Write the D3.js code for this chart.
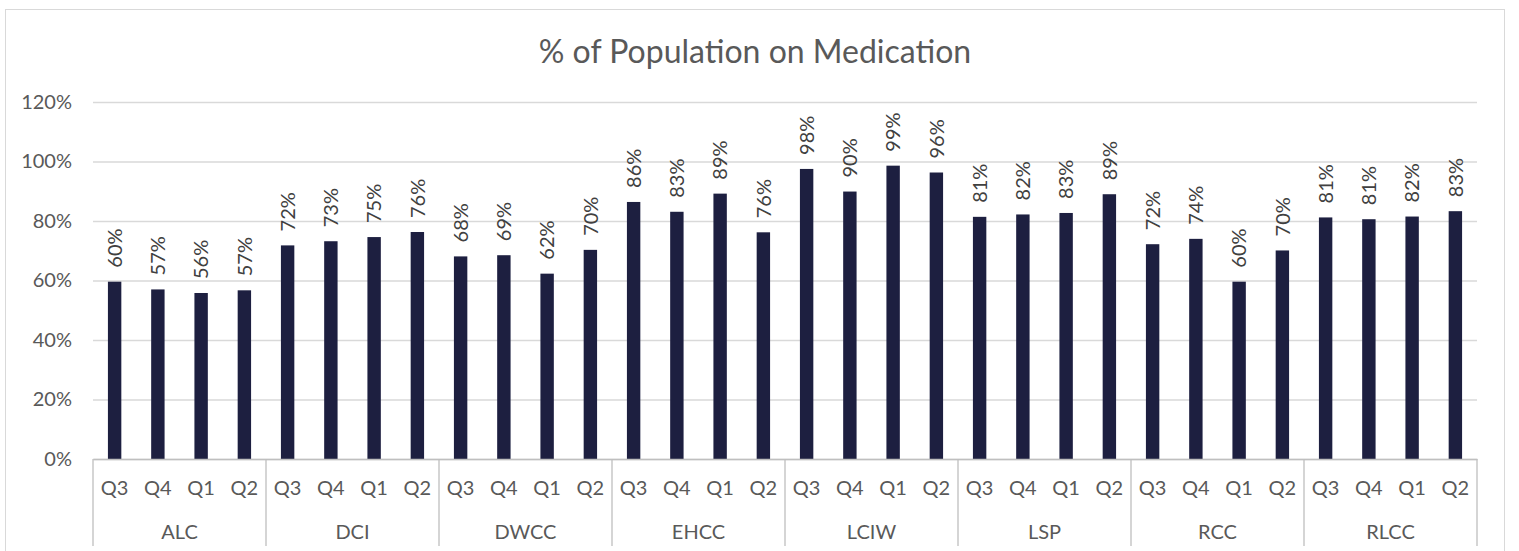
<!DOCTYPE html>
<html lang="en">
<head>
<meta charset="utf-8">
<title>% of Population on Medication</title>
<style>
body { margin: 0; background: #fff; }
svg text { font-family: Lato, "Open Sans", sans-serif; }
.title { font-size: 32px; fill: #595959; text-anchor: middle; }
.yAxis text { font-size: 20px; fill: #595959; }
.xAxis text { font-size: 20px; fill: #595959; }
.lbl { font-size: 20px; fill: #404040; }
</style>
</head>
<body>
<div id="chart"></div>
<script src="https://d3js.org/d3.v7.min.js"></script>
<script>
var sites = ['ALC', 'DCI', 'DWCC', 'EHCC', 'LCIW', 'LSP', 'RCC', 'RLCC'];
var quarters = ['Q3', 'Q4', 'Q1', 'Q2'];
var alc  = [0.596, 0.570, 0.558, 0.567];
var dci  = [0.718, 0.732, 0.746, 0.763];
var dwcc = [0.681, 0.685, 0.623, 0.703];
var ehcc = [0.864, 0.831, 0.892, 0.762];
var lciw = [0.975, 0.899, 0.986, 0.963];
var lsp  = [0.814, 0.822, 0.827, 0.890];
var rcc  = [0.722, 0.740, 0.596, 0.701];
var rlcc = [0.812, 0.806, 0.815, 0.833];
var yTicks = [0, 0.2, 0.4, 0.6, 0.8, 1.0, 1.2];

var seriesBySite = [alc, dci, dwcc, ehcc, lciw, lsp, rcc, rlcc];
var data = [];
sites.forEach(function(s, i) {
  quarters.forEach(function(q, j) {
    data.push({ site: s, q: q, key: s + '|' + q, v: seriesBySite[i][j] });
  });
});

var W = 1519, H = 551;
var margin = { top: 102, right: 42, bottom: 92, left: 93 };
var width = W - margin.left - margin.right;
var height = H - margin.top - margin.bottom;
var pct = d3.format('.0%');

var svg = d3.select('#chart').append('svg')
  .attr('width', W).attr('height', H);

// chart frame
svg.append('rect')
  .attr('x', 5.5).attr('y', 9.5)
  .attr('width', 1499).attr('height', 600)
  .attr('fill', 'none').attr('stroke', '#d9d9d9');

svg.append('text').attr('class', 'title')
  .attr('x', 755).attr('y', 63)
  .text('% of Population on Medication');

var g = svg.append('g')
  .attr('transform', 'translate(' + margin.left + ',' + margin.top + ')');

var y = d3.scaleLinear().domain([0, 1.2]).range([height, 0]);
var x = d3.scaleBand().domain(data.map(function(d) { return d.key; }))
  .range([0, width]).paddingInner(0.69).paddingOuter(0.345);
var xg = d3.scaleBand().domain(sites).range([0, width]);

// gridlines + y axis
var yAxis = g.append('g').attr('class', 'yAxis')
  .call(d3.axisLeft(y).tickValues(yTicks).tickFormat(pct)
    .tickSize(-width).tickPadding(21));
yAxis.select('.domain').remove();
yAxis.selectAll('line').attr('stroke', '#d9d9d9').attr('stroke-width', 1.3);

// bars
g.selectAll('rect.bar').data(data).enter().append('rect')
  .attr('class', 'bar')
  .attr('x', function(d) { return x(d.key); })
  .attr('width', x.bandwidth())
  .attr('y', function(d) { return y(d.v); })
  .attr('height', function(d) { return height - y(d.v); })
  .attr('fill', '#1d1f40');

// value labels, rotated
g.selectAll('text.lbl').data(data).enter().append('text')
  .attr('class', 'lbl')
  .attr('transform', function(d) {
    return 'translate(' + (x(d.key) + x.bandwidth() / 2) + ',' + (y(d.v) - 14) + ') rotate(-90)';
  })
  .attr('dy', '0.36em')
  .text(function(d) { return pct(d.v); });

// category axis: quarters
var xAxis = g.append('g').attr('class', 'xAxis')
  .attr('transform', 'translate(0,' + height + ')')
  .call(d3.axisBottom(x).tickSize(0).tickPadding(22)
    .tickFormat(function(k) { return k.split('|')[1]; }));
xAxis.select('.domain').attr('stroke', '#bfbfbf').attr('stroke-width', 1.3);

// category axis: sites
var gAxis = g.append('g').attr('class', 'xAxis')
  .attr('transform', 'translate(0,' + height + ')');
gAxis.selectAll('text').data(sites).enter().append('text')
  .attr('x', function(d) { return xg(d) + xg.bandwidth() / 2; })
  .attr('y', 80)
  .attr('text-anchor', 'middle')
  .text(function(d) { return d; });
var bounds = sites.map(function(s) { return xg(s); }).concat([width]);
gAxis.selectAll('line').data(bounds).enter().append('line')
  .attr('x1', function(d) { return d; }).attr('x2', function(d) { return d; })
  .attr('y1', 0).attr('y2', 87)
  .attr('stroke', '#bfbfbf').attr('stroke-width', 1.3);
</script>
</body>
</html>
